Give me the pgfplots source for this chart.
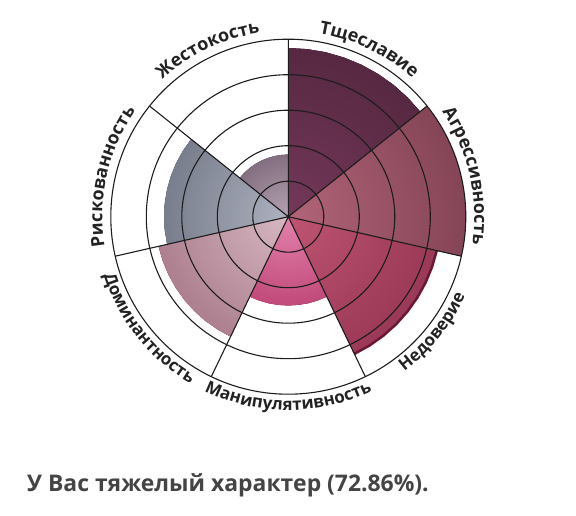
\documentclass[border=0pt]{standalone}
\usepackage{pgfplots}
\pgfplotsset{compat=1.18}
\usepgfplotslibrary{polar}
\usetikzlibrary{decorations.text}
\usepackage{fontspec}
\setmainfont{Open Sans}

\definecolor{tIn}{HTML}{74385A}\definecolor{tOut}{HTML}{3A1828}
\definecolor{aIn}{HTML}{B26478}\definecolor{aOut}{HTML}{582636}
\definecolor{nIn}{HTML}{BE5472}\definecolor{nOut}{HTML}{761E3C}
\definecolor{nSh}{HTML}{6C1636}
\definecolor{mIn}{HTML}{E282AC}\definecolor{mOut}{HTML}{A01249}
\definecolor{dIn}{HTML}{D6B8C2}\definecolor{dOut}{HTML}{84465C}
\definecolor{rIn}{HTML}{AEB2BF}\definecolor{rOut}{HTML}{444A5C}
\definecolor{zIn}{HTML}{B4A2B2}\definecolor{zOut}{HTML}{533C4D}
\definecolor{ring}{HTML}{1C1C1C}
\definecolor{lab}{HTML}{222222}
\definecolor{ttl}{HTML}{444444}

% radial shading centred on the pole, reaching the outer colour at the sector's value
\pgfplotsset{sector/.style n args={3}{draw=none, fill=#3,
  path picture={\pgfmathsetmacro\rr{2.83*#1}
    \shade[path picture={}, inner color=#2, outer color=#3] (axis cs:225,\rr) rectangle (axis cs:45,\rr);}}}

\def\lab{\color{lab}\bfseries\fontsize{18}{22}\selectfont}
\def\labb{\color{lab}\bfseries\fontsize{17}{20}\selectfont}

\begin{document}
\begin{tikzpicture}
\useasboundingbox (0,0) rectangle (576bp,516bp);
\begin{polaraxis}[
  scale only axis, width=355bp, height=355bp,
  at={(288.3bp,299.3bp)}, anchor=center,
  xmin=0, xmax=360, ymin=0, ymax=100,
  xtick={90,38.571,347.143,295.714,244.286,192.857,141.429},
  ytick={20,40,60,80},
  xticklabels={}, yticklabels={},
  major tick length=0pt,
  xmajorgrids, ymajorgrids,
  grid style={draw=ring, line width=1.1pt},
  x axis line style={draw=ring, line width=1.1pt},
  y axis line style={draw=none},
  axis on top,
]
% Тщеславие 95
\addplot[sector={95}{tIn}{tOut}] coordinates {(0,0) (90,95) (83.57,95) (77.14,95) (70.71,95) (64.29,95) (57.86,95) (51.43,95) (45,95) (38.57,95) (0,0)};
% Агрессивность 100
\addplot[sector={100}{aIn}{aOut}] coordinates {(0,0) (38.57,100) (32.14,100) (25.71,100) (19.29,100) (12.86,100) (6.43,100) (0,100) (-6.43,100) (-12.86,100) (0,0)};
% Недоверие 85, with its dark rim
\addplot[draw=none, fill=nSh] coordinates {(0,0) (-12.86,86.5) (-19.29,86.5) (-25.71,86.5) (-32.14,86.5) (-38.57,86.5) (-45,86.5) (-51.43,86.5) (-57.86,86.5) (-64.29,86.5) (0,0)};
\addplot[sector={85}{nIn}{nOut}] coordinates {(0,0) (-12.86,85) (-19.29,85) (-25.71,85) (-32.14,85) (-38.57,85) (-45,85) (-51.43,85) (-57.86,85) (-64.29,85) (0,0)};
% Манипулятивность 50
\addplot[sector={50}{mIn}{mOut}] coordinates {(0,0) (-64.29,50) (-70.71,50) (-77.14,50) (-83.57,50) (-90,50) (-96.43,50) (-102.86,50) (-109.29,50) (-115.71,50) (0,0)};
% Доминантность 75
\addplot[sector={75}{dIn}{dOut}] coordinates {(0,0) (-115.71,75) (-122.14,75) (-128.57,75) (-135,75) (-141.43,75) (-147.86,75) (-154.29,75) (-160.71,75) (-167.14,75) (0,0)};
% Рискованность 70
\addplot[sector={70}{rIn}{rOut}] coordinates {(0,0) (192.86,70) (186.43,70) (180,70) (173.57,70) (167.14,70) (160.71,70) (154.29,70) (147.86,70) (141.43,70) (0,0)};
% Жестокость 35
\addplot[sector={35}{zIn}{zOut}] coordinates {(0,0) (141.43,35) (135,35) (128.57,35) (122.14,35) (115.71,35) (109.29,35) (102.86,35) (96.43,35) (90,35) (0,0)};
\coordinate (C) at (axis cs:0,0);
\end{polaraxis}

% labels: top ones read clockwise, bottom ones counter-clockwise
\path[decorate,decoration={text along path,text align=center,text={|\lab|Тщеславие}}]
  (C) ++(104.29:186bp) arc[start angle=104.29,end angle=24.29,radius=186bp];
\path[decorate,decoration={text along path,text align=center,text={|\lab|Агрессивность}}]
  (C) ++(57.86:186bp) arc[start angle=57.86,end angle=-32.14,radius=186bp];
\path[decorate,decoration={text along path,text align=center,text={|\lab|Жестокость}}]
  (C) ++(155.71:186bp) arc[start angle=155.71,end angle=75.71,radius=186bp];
\path[decorate,decoration={text along path,text align=center,text={|\lab|Рискованность}}]
  (C) ++(212.14:186bp) arc[start angle=212.14,end angle=122.14,radius=186bp];
\path[decorate,decoration={text along path,text align=center,text={|\labb|Недоверие}}]
  (C) ++(-78.57:193.5bp) arc[start angle=-78.57,end angle=1.43,radius=193.5bp];
\path[decorate,decoration={text along path,text align=center,text={|\labb|Манипулятивность}}]
  (C) ++(-135:193.5bp) arc[start angle=-135,end angle=-45,radius=193.5bp];
\path[decorate,decoration={text along path,text align=center,text={|\labb|Доминантность}}]
  (C) ++(-186.43:193.5bp) arc[start angle=-186.43,end angle=-96.43,radius=193.5bp];

\node[anchor=base west, inner sep=0pt, text=ttl] at (27bp,24.3bp)
  {\bfseries\fontsize{23}{27}\selectfont У Вас тяжелый характер (72.86\%).};
\end{tikzpicture}
\end{document}
